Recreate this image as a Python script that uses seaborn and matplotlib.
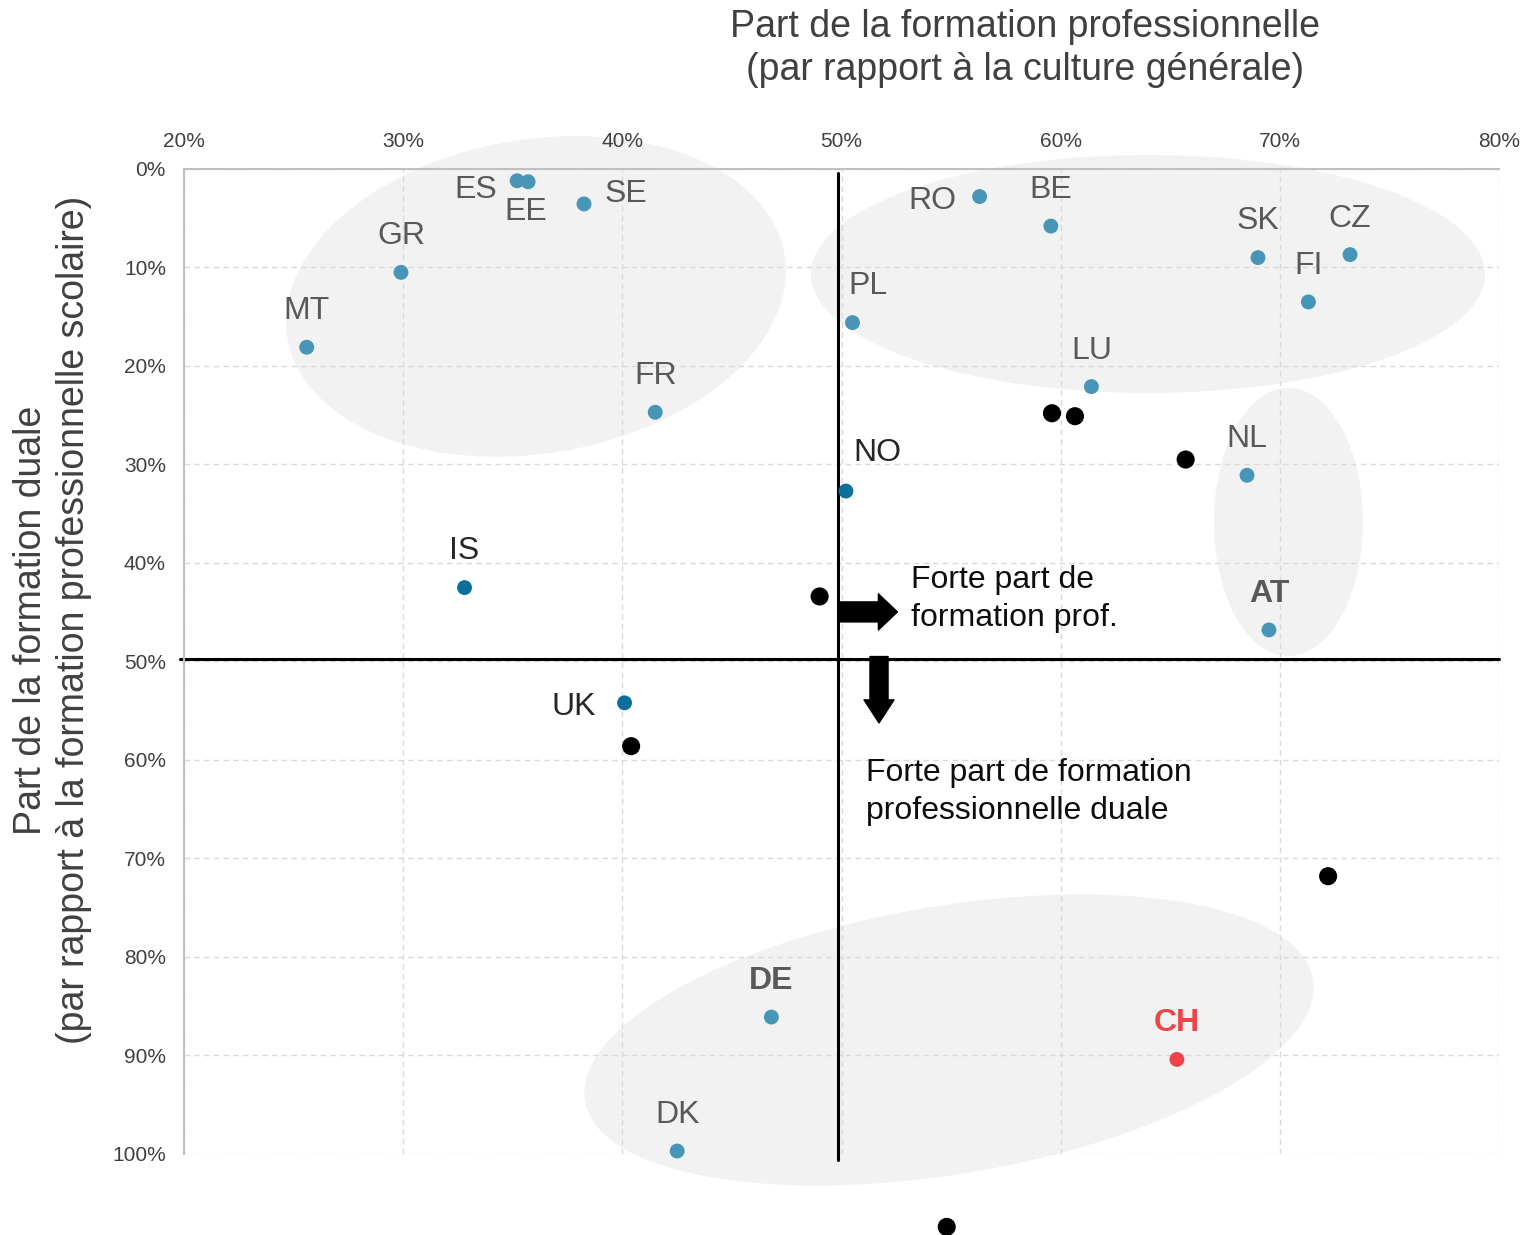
import numpy as np
import pandas as pd
import matplotlib
matplotlib.use("Agg")
import matplotlib.pyplot as plt
import seaborn as sns

### Data (x: share vocational, y: share dual, in %)
countries = ["ES", "EE", "SE", "GR", "MT", "FR", "RO", "BE", "SK", "CZ", "FI", "PL",
             "LU", "NL", "AT", "NO", "IS", "UK", "DE", "DK", "CH",
             "", "", "", "", "", "", ""]
x_voc = [35.2, 35.7, 38.25, 29.9, 25.6, 41.5, 56.3, 59.55, 69.0, 73.2, 71.3, 50.5,
         61.4, 68.5, 69.5, 50.2, 32.8, 40.1, 46.8, 42.5, 65.3,
         59.6, 60.65, 65.7, 49.0, 40.4, 72.2, 54.8]
y_dual = [1.2, 1.3, 3.55, 10.5, 18.1, 24.7, 2.8, 5.8, 9.0, 8.7, 13.5, 15.6,
          22.1, 31.1, 46.8, 32.7, 42.5, 54.2, 86.1, 99.7, 90.4,
          24.8, 25.1, 29.5, 43.4, 58.6, 71.8, 107.4]
groups = ["blue"] * 15 + ["dark"] * 3 + ["blue"] * 2 + ["red"] + ["black"] * 7

x_ticks = [20, 30, 40, 50, 60, 70, 80]
y_ticks = [0, 10, 20, 30, 40, 50, 60, 70, 80, 90, 100]

df = pd.DataFrame({"pays": countries, "x": x_voc, "y": y_dual, "grp": groups})

# label offsets in points (dx, dy up)
offsets = {"ES": (-29.5, -6.5), "EE": (-1.5, -21.5), "SE": (30, 7), "RO": (-34, -3),
           "PL": (11.5, 26.5), "NO": (22.5, 27.5), "UK": (-36.5, -3)}
bold = {"AT", "DE", "CH"}

sns.set_style("white")
plt.rcParams["font.family"] = ["Liberation Sans", "DejaVu Sans"]

fig = plt.figure(figsize=(15.23, 12.35), dpi=100)
ax = fig.add_axes([0.1208, 0.0656, 0.8635, 0.7976])

# grey ellipses (center in data, semi axes in pixels, tilt in degrees)
sx, sy = 60 / 1315, 100 / 985
def ellipse(cx, cy, a, b, ang):
    t = np.linspace(0, 2 * np.pi, 300)
    th = np.radians(ang)
    dx = a * np.cos(t) * np.cos(th) - b * np.sin(t) * np.sin(th)
    dy = a * np.cos(t) * np.sin(th) + b * np.sin(t) * np.cos(th)
    ax.fill(cx + dx * sx, cy - dy * sy, color="#f2f2f2", lw=0, zorder=0.3, clip_on=False)

ellipse(36.06, 12.94, 252, 157, 9.5)
ellipse(63.98, 10.66, 337, 119, 0)
ellipse(70.39, 35.84, 74.5, 134, 0)
ellipse(54.9, 88.43, 369, 134, 9.5)

# quadrant lines
ax.plot([49.86, 49.86], [0.4, 100.6], color="black", lw=2.2, zorder=2, clip_on=False)
ax.plot([19.8, 80], [49.75, 49.75], color="black", lw=2.2, zorder=2, clip_on=False)

sns.scatterplot(data=df, x="x", y="y", hue="grp", size="grp",
                palette={"blue": "#4795b7", "dark": "#0b6f9c", "red": "#ee4448", "black": "black"},
                sizes={"blue": 115, "dark": 115, "red": 115, "black": 170},
                linewidth=0, legend=False, zorder=3, ax=ax)
for c in ax.collections:
    c.set_clip_on(False)

for _, r in df[df["pays"] != ""].iterrows():
    col = "#595959"
    if r["grp"] == "dark":
        col = "#262626"
    if r["pays"] == "CH":
        col = "#ee4448"
    ax.annotate(r["pays"], (r["x"], r["y"]), xytext=offsets.get(r["pays"], (0, 26)),
                textcoords="offset points", ha="center", va="center", fontsize=23,
                color=col, fontweight="bold" if r["pays"] in bold else "normal", zorder=4)

# arrows
ax.annotate("", xy=(52.55, 44.97), xytext=(49.93, 44.97),
            arrowprops=dict(arrowstyle="simple,tail_width=1.44,head_width=2.6,head_length=1.37",
                            color="black", shrinkA=0, shrinkB=0, mutation_scale=10), zorder=4)
ax.annotate("", xy=(51.71, 56.24), xytext=(51.71, 49.5),
            arrowprops=dict(arrowstyle="simple,tail_width=1.3,head_width=2.16,head_length=1.66",
                            color="black", shrinkA=0, shrinkB=0, mutation_scale=10), zorder=4)
ax.text(53.17, 43.65, "Forte part de\nformation prof.", fontsize=23, va="center", ha="left",
        color="#0d0d0d", linespacing=1.37)
ax.text(51.12, 63.25, "Forte part de formation\nprofessionnelle duale", fontsize=23, va="center",
        ha="left", color="#0d0d0d", linespacing=1.37)

ax.set_xlim(20, 80)
ax.set_ylim(100, 0)
ax.xaxis.tick_top()
ax.set_xticks(x_ticks)
ax.set_yticks(y_ticks)
ax.set_xticklabels([f"{v}%" for v in x_ticks])
ax.set_yticklabels([f"{v}%" for v in y_ticks])
ax.tick_params(length=0, labelsize=15, colors="#404040", pad=13)
ax.set_xlabel("")
ax.set_ylabel("")
ax.set_axisbelow(True)
ax.grid(True, ls=(0, (4, 3)), color="#d9d9d9", lw=1)
for s in ["right", "bottom"]:
    ax.spines[s].set_visible(False)
for s in ["top", "left"]:
    ax.spines[s].set_color("#bfbfbf")
    ax.spines[s].set_linewidth(1.5)

fig.text(0.673, 0.9607, "Part de la formation professionnelle\n(par rapport à la culture générale)",
         ha="center", va="center", fontsize=27, color="#404040", linespacing=1.26)
fig.text(0.0345, 0.498, "Part de la formation duale\n(par rapport à la formation professionnelle scolaire)",
         ha="center", va="center", rotation=90, fontsize=27, color="#404040", linespacing=1.26)

fig.savefig("out.png", dpi=100)
